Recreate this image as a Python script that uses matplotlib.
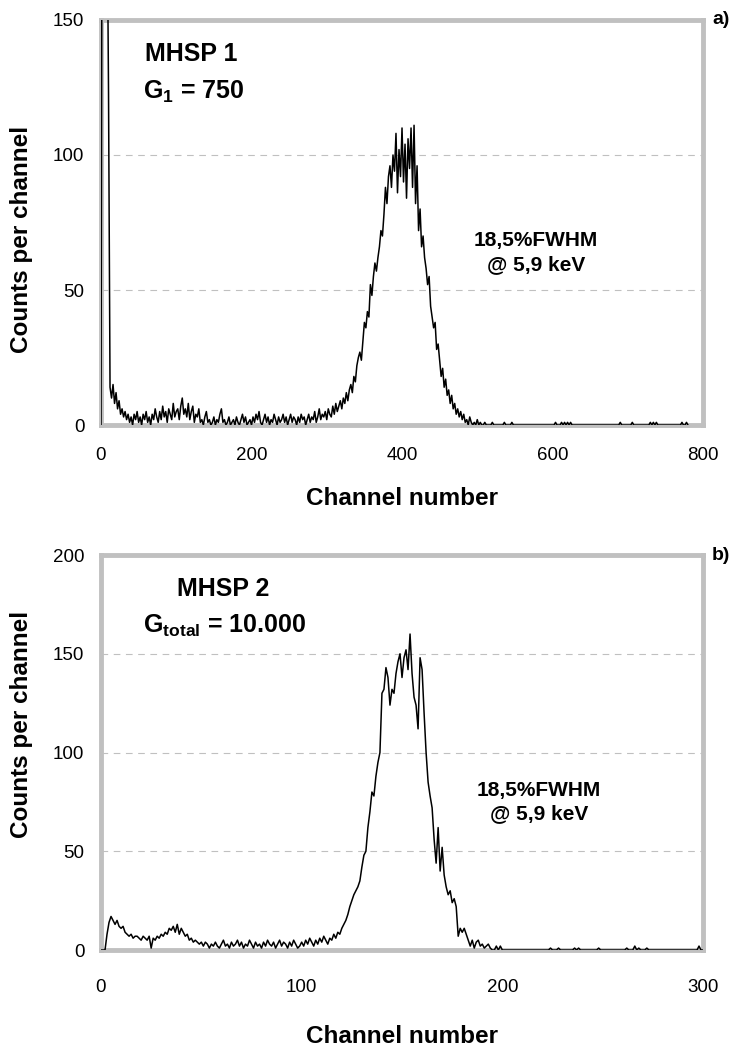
import matplotlib
matplotlib.use("Agg")
import matplotlib.pyplot as plt
import numpy as np

plt.rcParams['font.family'] = ['Liberation Sans', 'DejaVu Sans']
plt.rcParams['mathtext.fontset'] = 'custom'
plt.rcParams['mathtext.rm'] = 'Liberation Sans:bold'
plt.rcParams['mathtext.it'] = 'Liberation Sans:bold'
plt.rcParams['mathtext.bf'] = 'Liberation Sans:bold'

# panel a: MHSP 1, counts read every 2 channels (0..800)
ch_a_step = 2
counts_a = [
    0, 300, 300, 300, 200, 123, 14, 10, 15, 8, 12, 6, 9, 4, 6, 3, 5, 2, 4, 1,
    3, 0, 4, 2, 5, 1, 3, 0, 4, 2, 5, 1, 3, 0, 4, 2, 6, 3, 1, 5,
    2, 7, 3, 5, 1, 6, 4, 2, 8, 3, 5, 6, 2, 7, 10, 4, 6, 3, 8, 2,
    5, 7, 1, 4, 3, 6, 1, 2, 0, 3, 5, 1, 2, 0, 1, 3, 0, 2, 1, 4,
    6, 1, 2, 0, 1, 3, 0, 1, 2, 0, 3, 1, 0, 2, 4, 1, 3, 0, 1, 2,
    0, 3, 1, 4, 2, 5, 1, 0, 2, 4, 1, 3, 0, 2, 1, 4, 2, 0, 3, 1,
    2, 4, 1, 3, 0, 2, 4, 1, 3, 2, 0, 3, 1, 4, 2, 3, 0, 2, 4, 1,
    3, 2, 5, 1, 3, 6, 2, 4, 3, 5, 2, 6, 4, 3, 7, 4, 8, 5, 7, 9,
    6, 10, 8, 12, 9, 13, 15, 12, 18, 16, 22, 25, 27, 24, 31, 38, 36, 42, 40, 52,
    48, 55, 60, 57, 62, 66, 72, 70, 78, 88, 82, 92, 96, 88, 100, 94, 108, 86, 102, 92,
    110, 90, 104, 84, 106, 95, 110, 88, 111, 82, 96, 72, 80, 66, 70, 62, 58, 52, 55, 44,
    40, 36, 38, 28, 30, 24, 18, 21, 14, 17, 11, 13, 8, 11, 6, 8, 4, 6, 3, 5,
    2, 4, 1, 2, 0, 3, 1, 0, 1, 0, 2, 0, 1, 0, 0, 1, 0, 0, 0, 0,
    1, 0, 0, 0, 0, 0, 0, 0, 1, 0, 0, 0, 0, 1, 0, 0, 0, 0, 0, 0,
    0, 0, 0, 0, 0, 0, 0, 0, 0, 0, 0, 0, 0, 0, 0, 0, 0, 0, 0, 0,
    0, 0, 1, 0, 0, 0, 1, 0, 1, 0, 1, 0, 1, 0, 0, 0, 0, 0, 0, 0,
    0, 0, 0, 0, 0, 0, 0, 0, 0, 0, 0, 0, 0, 0, 0, 0, 0, 0, 0, 0,
    0, 0, 0, 0, 0, 1, 0, 0, 0, 0, 0, 0, 0, 1, 0, 0, 0, 0, 0, 0,
    0, 0, 0, 0, 0, 1, 0, 1, 0, 1, 0, 0, 0, 0, 0, 0, 0, 0, 0, 0,
    0, 0, 0, 0, 0, 0, 1, 0, 0, 1, 0,
]

# panel b: MHSP 2, counts per channel (0..300)
counts_b = [
    0, 0, 0, 8, 14, 17, 15, 13, 15, 12, 11, 12, 9, 8, 7, 8, 6, 7, 7, 6,
    5, 7, 6, 5, 7, 1, 6, 5, 7, 6, 8, 7, 9, 8, 11, 10, 12, 9, 13, 8,
    11, 9, 7, 8, 5, 6, 4, 5, 4, 3, 4, 2, 4, 3, 1, 3, 2, 4, 2, 1,
    3, 5, 2, 3, 1, 4, 2, 3, 5, 2, 4, 1, 3, 2, 5, 3, 1, 4, 2, 3,
    1, 4, 2, 5, 3, 2, 4, 1, 3, 5, 2, 4, 3, 1, 4, 2, 5, 3, 1, 2,
    4, 2, 5, 3, 6, 4, 2, 5, 3, 6, 4, 7, 5, 3, 6, 5, 8, 6, 9, 8,
    11, 13, 15, 18, 22, 25, 28, 30, 32, 35, 42, 48, 50, 62, 70, 80, 78, 88, 95, 100,
    130, 132, 143, 138, 124, 132, 130, 140, 146, 150, 138, 148, 152, 142, 160, 140, 128, 124, 112, 148,
    142, 120, 100, 85, 78, 72, 56, 44, 62, 40, 52, 38, 32, 28, 30, 24, 26, 22, 7, 11,
    9, 11, 8, 5, 2, 5, 1, 4, 5, 2, 3, 1, 2, 3, 1, 0, 0, 2, 0, 2,
    0, 0, 0, 0, 0, 0, 0, 0, 0, 0, 0, 0, 0, 0, 0, 0, 0, 0, 0, 0,
    0, 0, 0, 0, 1, 0, 0, 0, 1, 0, 0, 0, 0, 0, 0, 0, 1, 0, 1, 0,
    0, 0, 0, 0, 0, 0, 0, 0, 1, 0, 0, 0, 0, 0, 0, 0, 0, 0, 0, 0,
    0, 0, 1, 0, 0, 0, 2, 0, 1, 0, 0, 0, 1, 0, 0, 0, 0, 0, 0, 0,
    0, 0, 0, 0, 0, 0, 0, 0, 0, 0, 0, 0, 0, 0, 0, 0, 0, 0, 2, 0,
    0,
]

x_ticks_a = [0, 200, 400, 600, 800]
y_ticks_a = [0, 50, 100, 150]
x_ticks_b = [0, 100, 200, 300]
y_ticks_b = [0, 50, 100, 150, 200]

FRAME = '#c0c0c0'


def style_axes(ax, xticks, yticks, xpad, xlab_y, ylab_y):
    ax.set_xlim(xticks[0], xticks[-1])
    ax.set_ylim(yticks[0], yticks[-1])
    ax.set_xticks(xticks)
    ax.set_yticks(yticks)
    ax.tick_params(length=0, labelsize=13.5)
    ax.tick_params(axis='x', pad=xpad)
    ax.tick_params(axis='y', pad=12)
    for s in ax.spines.values():
        s.set_color(FRAME)
        s.set_linewidth(3.5)
    # dashed gridlines only inside the frame
    for y in yticks[1:-1]:
        ax.axhline(y, color='#c0c0c0', lw=0.8, ls=(0, (6, 5)), zorder=0)
    ax.set_xlabel('Channel number', fontsize=17.5, fontweight='bold')
    ax.set_ylabel('Counts per channel', fontsize=17.5, fontweight='bold')
    ax.xaxis.set_label_coords(0.5, xlab_y)
    ax.yaxis.set_label_coords(-0.113, ylab_y)


fig = plt.figure(figsize=(7.34, 10.5), dpi=100)

ax1 = fig.add_axes([0.1376, 0.5952, 0.8202, 0.3858])
xa = np.arange(len(counts_a)) * ch_a_step
ax1.plot(xa, counts_a, color='black', lw=1.1, zorder=3)
style_axes(ax1, x_ticks_a, y_ticks_a, xpad=16, xlab_y=-0.153, ylab_y=0.457)
ax1.text(0.073, 0.916, 'MHSP 1', transform=ax1.transAxes, fontsize=18,
         fontweight='bold', ha='left', va='center')
ax1.text(0.070, 0.822, r'$\mathrm{G_1}$ = 750', transform=ax1.transAxes,
         fontsize=18, fontweight='bold', ha='left', va='center')
ax1.text(0.7226, 0.426, '18,5%FWHM\n@ 5,9 keV', transform=ax1.transAxes,
         fontsize=15, fontweight='bold', ha='center', va='center', linespacing=1.3)
ax1.text(1.015, 1.0, 'a)', transform=ax1.transAxes, fontsize=14,
         fontweight='bold', ha='left', va='center')

ax2 = fig.add_axes([0.1376, 0.0952, 0.8202, 0.3762])
xb = np.arange(len(counts_b))
ax2.plot(xb, counts_b, color='black', lw=1.1, zorder=3)
style_axes(ax2, x_ticks_b, y_ticks_b, xpad=21, xlab_y=-0.19, ylab_y=0.572)
ax2.text(0.126, 0.914, 'MHSP 2', transform=ax2.transAxes, fontsize=18,
         fontweight='bold', ha='left', va='center')
ax2.text(0.070, 0.820, r'$\mathrm{G_{total}}$ = 10.000', transform=ax2.transAxes,
         fontsize=18, fontweight='bold', ha='left', va='center')
ax2.text(0.7276, 0.375, '18,5%FWHM\n@ 5,9 keV', transform=ax2.transAxes,
         fontsize=15, fontweight='bold', ha='center', va='center', linespacing=1.3)
ax2.text(1.015, 1.0, 'b)', transform=ax2.transAxes, fontsize=14,
         fontweight='bold', ha='left', va='center')

fig.savefig('out.png', dpi=100)
